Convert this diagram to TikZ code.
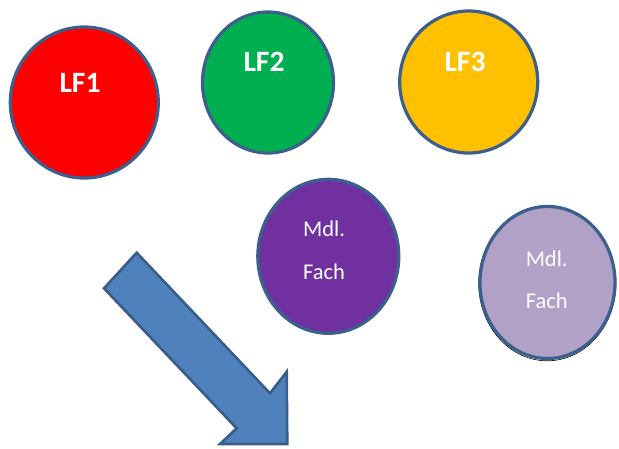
\documentclass[tikz,border=0pt]{standalone}
\usepackage{fontspec}
\setmainfont{Carlito}
\usepackage{xcolor}
\usetikzlibrary{shapes.geometric,calc}
\definecolor{lfred}{HTML}{FF0000}
\definecolor{lfgreen}{HTML}{00B050}
\definecolor{lfyellow}{HTML}{FFC000}
\definecolor{mdlpurple}{HTML}{7030A0}
\definecolor{mdllight}{HTML}{B2A1C7}
\definecolor{rimblue}{HTML}{3B608D}
\definecolor{arrowfill}{HTML}{4F81BD}
\definecolor{arrowrim}{HTML}{385D8A}
\tikzset{
	fieldcircle/.style={ellipse, draw=rimblue, line width=3.2pt, inner sep=0pt},
	lftext/.style={text=white, font=\fontsize{29.5}{31}\selectfont\bfseries, inner sep=0pt},
	mdltext/.style={text=white, font=\fontsize{22.5}{24}\selectfont, inner sep=0pt},
}

\begin{document}
\begin{tikzpicture}[x=1pt, y=-1pt]
	\useasboundingbox (0,0) rectangle (619,448);
	
	% Learning fields, top row
	\node[fieldcircle, fill=lfred, minimum width=148pt, minimum height=151pt] (lf1) at (84.3,102.5) {}; %LF1
	\node[fieldcircle, fill=lfgreen, minimum width=131pt, minimum height=141pt] (lf2) at (268,82.5) {}; %LF2
	\node[fieldcircle, fill=lfyellow, minimum width=138pt, minimum height=142pt] (lf3) at (468.7,82) {}; %LF3
	\node[lftext] (lf1label) at (80,82.5) {LF1};
	\node[lftext] (lf2label) at (264,62) {LF2};
	\node[lftext] (lf3label) at (465,62) {LF3};
	
	% Subject circles
	\node[fieldcircle, fill=mdlpurple, minimum width=141pt, minimum height=154pt] (fach1) at (328.3,256.3) {}; %dark one
	\draw[black, line width=0.6pt] (547.3,283.2) ellipse (68.6pt and 77.6pt); %faint shadow edge
	\node[fieldcircle, fill=mdllight, minimum width=135pt, minimum height=152pt] (fach2) at (547.5,282.5) {}; %light one
	\node[mdltext] (fach1top) at (324,229) {Mdl.};
	\node[mdltext] (fach1bot) at (324,272) {Fach};
	\node[mdltext] (fach2top) at (546.7,258.5) {Mdl.};
	\node[mdltext] (fach2bot) at (546.7,300.5) {Fach};
	
	% Big block arrow pointing down right
	\coordinate (a1) at (136.7,252.7); %shaft top
	\coordinate (a2) at (270,393.3);   %shaft meets head, right
	\coordinate (a3) at (286.7,371.7); %head upper corner
	\coordinate (a4) at (287.3,444);   %tip
	\coordinate (a5) at (220,444);     %head lower corner
	\coordinate (a6) at (236.7,428.3); %shaft meets head, left
	\coordinate (a7) at (104,288.3);   %shaft left
	\draw[fill=arrowfill, draw=arrowrim, line width=2.6pt, line join=miter]
		(a1) -- (a2) -- (a3) -- (a4) -- (a5) -- (a6) -- (a7) -- cycle;
	
\end{tikzpicture}
\end{document}
